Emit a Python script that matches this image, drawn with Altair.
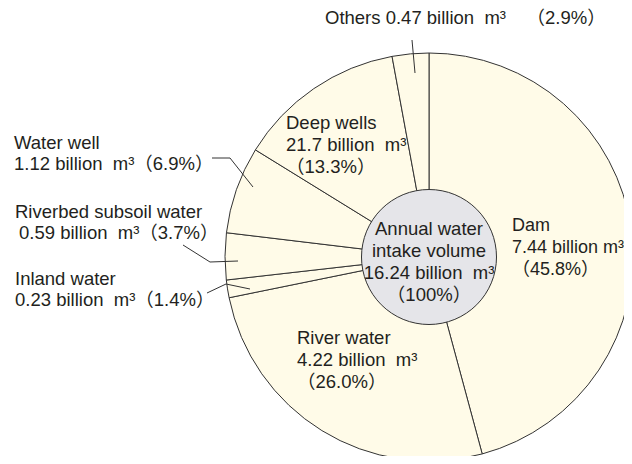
import altair as alt
import pandas as pd

# ---- data ----
categories = ["Dam", "River water", "Inland water", "Riverbed subsoil water",
              "Water well", "Deep wells", "Others"]
volumes = ["7.44", "4.22", "0.23", "0.59", "1.12", "21.7", "0.47"]   # billion m3 (as printed)
shares = [45.8, 26.0, 1.4, 3.7, 6.9, 13.3, 2.9]                       # percent
total_volume = "16.24"
total_share = 100
center_title = ["Annual water", "intake volume"]

# ---- layout / style (kept apart from data) ----
CX, CY = 421, 249
R_OUT, R_IN = 204, 67.5
FONT = "Liberation Sans, Arial, Noto Sans CJK JP"
FS = 18.5
TXT = "#231f20"

def vol(v, gap="\u00a0\u00a0"):
    return f"{v} billion{gap}m\u00b3"

def pct(p):
    return f"\uff08{p}%\uff09"

# label layout per category: (x, first-line y, style, font size, gap)
layout = {
    "Dam": (504, 218, "three", 18, " "),
    "River water": (289, 330, "three", FS, "\u00a0\u00a0"),
    "Deep wells": (278, 115, "three", FS, "\u00a0\u00a0"),
    "Water well": (6, 135, "two", FS, "\u00a0\u00a0"),
    "Riverbed subsoil water": (7, 204, "two_indent", FS, "\u00a0\u00a0"),
    "Inland water": (7, 271, "two", FS, "\u00a0\u00a0"),
    "Others": (317, 10, "one", FS, "\u00a0\u00a0"),
}
LINE = 22

rows = []
for c, v, p in zip(categories, volumes, shares):
    x, y, style, fs, gap = layout[c]
    if style == "three":
        rows += [(x, y, c, fs), (x, y + LINE, vol(v, gap), fs),
                 (x, y + 2 * LINE, pct(p), fs)]
    elif style == "two":
        rows += [(x, y, c, fs), (x, y + LINE - 1, vol(v, gap) + pct(p), fs)]
    elif style == "two_indent":
        rows += [(x, y, c, fs), (x + 4, y + LINE - 1, vol(v, gap) + pct(p), fs)]
    else:
        rows += [(x, y, f"{c} {vol(v, gap)}\u00a0\u00a0\u00a0\u00a0{pct(p)}", fs)]
labels = pd.DataFrame(rows, columns=["x", "y", "text", "fs"])

center_rows = [(CX, 221, center_title[0]), (CX, 243, center_title[1]),
               (CX, 265, vol(total_volume)), (CX, 287, pct(total_share))]
center_labels = pd.DataFrame(center_rows, columns=["x", "y", "text"])

# leader lines (segments)
leaders = pd.DataFrame([
    (404, 32, 407, 65),
    (204, 150, 222, 150), (222, 150, 245, 179),
    (175, 237, 202, 254), (202, 254, 230, 253),
    (199, 285, 218, 276), (218, 276, 242, 281),
], columns=["x", "y", "x2", "y2"])

slices = pd.DataFrame({"category": categories, "share": shares,
                       "idx": list(range(len(categories)))})

arcs = alt.Chart(slices).mark_arc(
    radius=R_OUT, fill="#FFFBE8", stroke="#333333", strokeWidth=1
).encode(
    theta=alt.Theta("share:Q", stack=True),
    order=alt.Order("idx:Q"),
    x=alt.value(CX), y=alt.value(CY),
)

center = alt.Chart(pd.DataFrame({"t": [total_share]})).mark_arc(
    radius=R_IN, fill="#E5E5E9", stroke="#333333", strokeWidth=1
).encode(
    theta=alt.Theta("t:Q"),
    x=alt.value(CX), y=alt.value(CY),
)

rules = alt.Chart(leaders).mark_rule(color="#333333", strokeWidth=1).encode(
    x=alt.X("x:Q", scale=None, axis=None),
    y=alt.Y("y:Q", scale=None, axis=None),
    x2="x2:Q", y2="y2:Q",
)

text = alt.Chart(labels).mark_text(
    align="left", baseline="middle", font=FONT, color=TXT
).encode(
    x=alt.X("x:Q", scale=None, axis=None),
    y=alt.Y("y:Q", scale=None, axis=None),
    size=alt.Size("fs:Q", scale=None, legend=None),
    text="text:N",
)

ctext = alt.Chart(center_labels).mark_text(
    align="center", baseline="middle", font=FONT, fontSize=FS, color=TXT
).encode(
    x=alt.X("x:Q", scale=None, axis=None),
    y=alt.Y("y:Q", scale=None, axis=None),
    text="text:N",
)

chart = alt.layer(arcs, rules, center, text, ctext).resolve_scale(
    theta="independent"
).properties(
    width=616, height=448, padding=0, autosize="none"
).configure_view(stroke=None)

chart.save("out.html", embed_options={"renderer": "svg", "actions": False})
